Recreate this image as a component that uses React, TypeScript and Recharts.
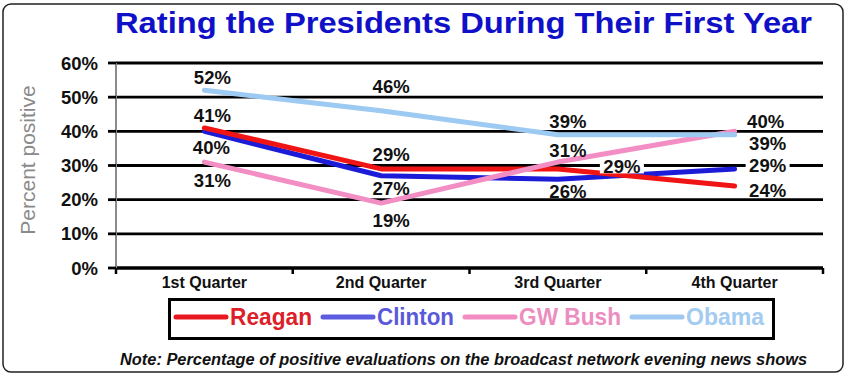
import { LineChart, Line, XAxis, YAxis, CartesianGrid, LabelList, Legend } from 'recharts';

const quarters = ['1st Quarter', '2nd Quarter', '3rd Quarter', '4th Quarter'];
const reagan = [41, 29, 29, 24];
const clinton = [40, 27, 26, 29];
const gwBush = [31, 19, 31, 40];
const obama = [52, 46, 39, 39];
const yTicks = [0, 10, 20, 30, 40, 50, 60];

const data = quarters.map((q, i) => ({
  quarter: q,
  reagan: reagan[i],
  clinton: clinton[i],
  bush: gwBush[i],
  obama: obama[i],
}));

const W = 850;
const H = 379;
const MARGIN = { top: 63, right: 27, bottom: 81, left: 0 };
const Y_AXIS_W = 116;
const PLOT_W = W - MARGIN.left - Y_AXIS_W - MARGIN.right;
const HALF_BAND = PLOT_W / 8;
const FONT = '"Liberation Sans", Arial, Helvetica, sans-serif';

// label offsets from each point, [dx, dy]
const series = [
  {
    key: 'reagan', name: 'Reagan', color: '#F01414', legendLine: '#E81820', legendText: '#DC1F2A', textW: 82,
    offsets: [[8, -12], [10, -14], [64, -2], [33, 4]], bg: [2],
  },
  {
    key: 'clinton', name: 'Clinton', color: '#1C1CD8', legendLine: '#5C5CE0', legendText: '#5959D9', textW: 77,
    offsets: [[7, 16], [10, 13], [10, 12], [33, -3]], bg: [3],
  },
  {
    key: 'bush', name: 'GW Bush', color: '#F28EC4', legendLine: '#F28CC2', legendText: '#EC8DC0', textW: 102,
    offsets: [[8, 18], [10, 17], [10, -12], [31, -10]], bg: [],
  },
  {
    key: 'obama', name: 'Obama', color: '#9DCAF2', legendLine: '#9FC9F0', legendText: '#A4CBF0', textW: 78,
    offsets: [[8, -13], [10, -24], [10, -13], [33, 9]], bg: [],
  },
];

const byKey: Record<string, (typeof series)[number]> = {};
series.forEach((s) => (byKey[s.key] = s));
const drawOrder = ['clinton', 'reagan', 'bush', 'obama'];

const makeLabel = (offsets: number[][], bg: number[]) => (p: any) => {
  const { x, y, value, index } = p;
  const [dx, dy] = offsets[index] || [0, 0];
  const cx = x + dx;
  const cy = y + dy;
  return (
    <g>
      {bg.includes(index) && <rect x={cx - 22} y={cy - 6.5} width={44} height={13} fill="#fff" />}
      <text x={cx} y={cy} textAnchor="middle" dominantBaseline="central" fontFamily={FONT} fontSize={18.5} fontWeight={700} fill="#111">
        {value}%
      </text>
    </g>
  );
};

const QuarterTick = (p: any) => {
  const { x, y, payload, index } = p;
  return (
    <g>
      {index === 0 && <line x1={x - HALF_BAND} x2={x - HALF_BAND} y1={y} y2={y + 6} stroke="#000" strokeWidth={2.5} />}
      <line x1={x + HALF_BAND} x2={x + HALF_BAND} y1={y} y2={y + 6} stroke="#000" strokeWidth={2.5} />
      <text x={x} y={y + 20} textAnchor="middle" fontFamily={FONT} fontSize={16} fontWeight={700} fill="#111">
        {payload.value}
      </text>
    </g>
  );
};

const LegendBox = () => {
  let cur = 8;
  return (
    <svg width={607} height={42} style={{ display: 'block' }}>
      <rect x={1.5} y={1.5} width={604} height={39} fill="#fff" stroke="#000" strokeWidth={3} />
      {series.map((s) => {
        const x0 = cur;
        cur += 54 + s.textW + 11;
        return (
          <g key={s.key}>
            <line x1={x0} x2={x0 + 50} y1={19} y2={19} stroke={s.legendLine} strokeWidth={5} strokeLinecap="round" />
            <text x={x0 + 54} y={27} textLength={s.textW} lengthAdjust="spacingAndGlyphs" fontFamily={FONT} fontSize={24} fontWeight={700} fill={s.legendText}>
              {s.name}
            </text>
          </g>
        );
      })}
    </svg>
  );
};

export default function App() {
  return (
    <div style={{ position: 'absolute', left: 0, top: 0, width: W, height: H, background: '#fff' }}>
      <LineChart width={W} height={H} data={data} margin={MARGIN}>
        <CartesianGrid vertical={false} stroke="#000" strokeWidth={2.8} />
        <XAxis
          dataKey="quarter"
          padding={{ left: HALF_BAND, right: HALF_BAND }}
          height={30}
          tickLine={false}
          tickSize={0}
          tickMargin={0}
          axisLine={{ stroke: '#000', strokeWidth: 2.8 }}
          tick={QuarterTick}
          interval={0}
        />
        <YAxis
          width={Y_AXIS_W}
          domain={[0, 60]}
          ticks={yTicks}
          tickFormatter={(v) => `${v}%`}
          tickSize={8}
          tickMargin={10}
          tickLine={{ stroke: '#000', strokeWidth: 2.8 }}
          axisLine={{ stroke: '#8a8a8a', strokeWidth: 2 }}
          tick={{ fill: '#111', fontSize: 18.5, fontWeight: 700, fontFamily: FONT }}
        />
        <YAxis
          yAxisId="right"
          orientation="right"
          width={0}
          domain={[0, 60]}
          tick={false}
          tickLine={false}
          axisLine={{ stroke: '#000', strokeWidth: 3 }}
        />
        <Legend
          layout="horizontal"
          verticalAlign="middle"
          align="center"
          wrapperStyle={{ position: 'absolute', left: 168, top: 298, width: 607, height: 42 }}
          content={LegendBox}
        />
        {drawOrder.map((k) => {
          const s = byKey[k];
          return (
            <Line
              key={s.key}
              type="linear"
              dataKey={s.key}
              name={s.name}
              stroke={s.color}
              strokeWidth={5}
              strokeLinecap="round"
              strokeLinejoin="round"
              dot={false}
              activeDot={false}
              isAnimationActive={false}
            >
              <LabelList dataKey={s.key} content={makeLabel(s.offsets, s.bg)} />
            </Line>
          );
        })}
      </LineChart>
      <svg width={W} height={H} style={{ position: 'absolute', left: 0, top: 0, pointerEvents: 'none' }}>
        <rect x={3} y={4} width={840} height={368} rx={8} fill="none" stroke="#222" strokeWidth={1.5} />
        <text x={463.5} y={33} textAnchor="middle" textLength={697} lengthAdjust="spacingAndGlyphs" fontFamily={FONT} fontSize={30} fontWeight={700} fill="#1010C8">
          Rating the Presidents During Their First Year
        </text>
        <text transform="translate(35,160) rotate(-90)" textAnchor="middle" fontFamily={FONT} fontSize={21} fill="#8a8a8a">
          Percent positive
        </text>
        <text x={120} y={365} textLength={687} lengthAdjust="spacingAndGlyphs" fontFamily={FONT} fontSize={16} fontWeight={700} fontStyle="italic" fill="#111">
          Note: Percentage of positive evaluations on the broadcast network evening news shows
        </text>
      </svg>
    </div>
  );
}
